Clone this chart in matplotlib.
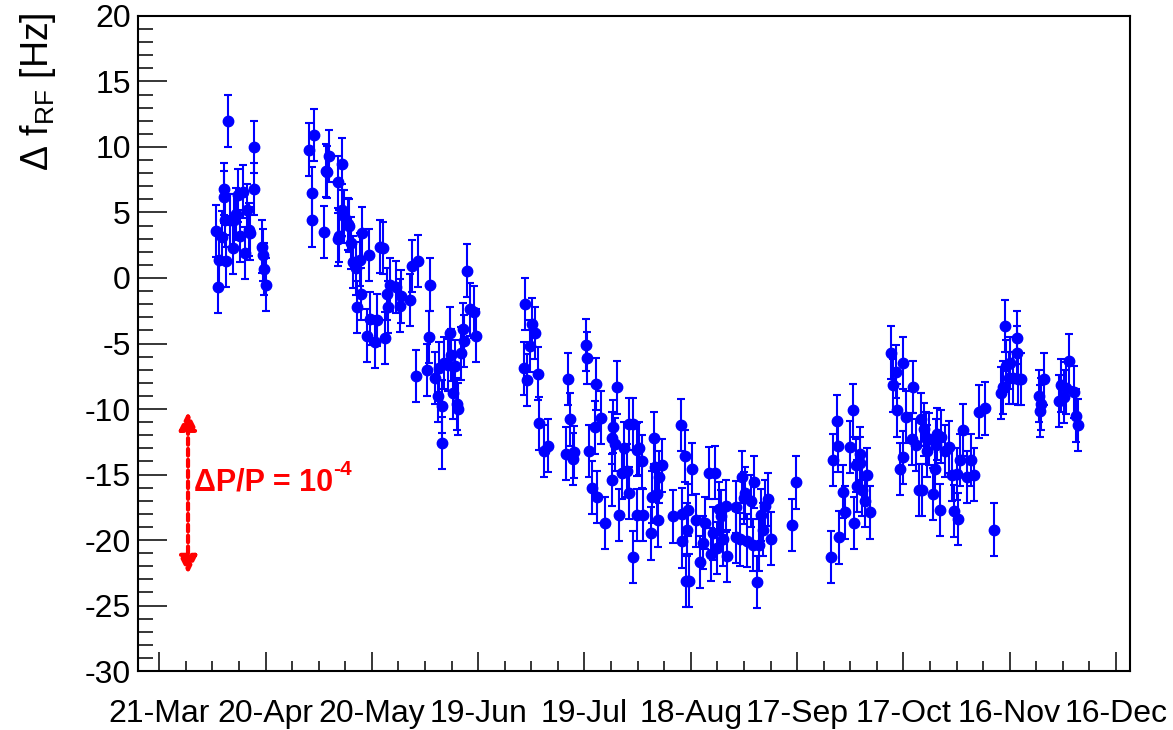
import numpy as np
import matplotlib
matplotlib.use("Agg")
import matplotlib.pyplot as plt

plt.rcParams['font.family'] = ['Liberation Sans', 'DejaVu Sans']
plt.rcParams['mathtext.fontset'] = 'custom'
plt.rcParams['mathtext.rm'] = 'Liberation Sans'
plt.rcParams['mathtext.it'] = 'Liberation Sans:italic'
plt.rcParams['axes.unicode_minus'] = False

# days counted from 21-Mar
day = [15.9, 16.6, 16.8, 17.8, 18.2, 18.3, 18.5, 18.7, 19.4, 20.0, 20.8, 21.2, 21.7,
       22.3, 22.9, 23.7, 24.2, 24.7, 25.3, 25.6, 26.6, 26.7, 28.9, 29.3, 29.6, 30.0,
       42.2, 43.7, 43.2, 43.0, 46.6, 47.0, 47.3, 47.9, 50.3, 51.5, 50.7, 50.5, 51.6,
       52.2, 53.2, 53.5, 54.1, 54.7, 55.4, 56.7, 57.3, 56.9, 55.9, 59.2, 59.4, 58.6,
       60.9, 61.5, 62.3, 63.2, 63.7, 64.2, 64.6, 65.1, 66.7, 68.2, 67.9, 70.7, 71.2,
       73.1, 76.3, 76.2, 72.4, 75.6, 77.8, 78.6, 78.8, 79.7, 79.8, 80.4, 81.4, 82.0,
       82.3, 83.0, 83.4, 83.9, 84.4, 85.1, 85.8, 86.1, 86.8, 87.8, 88.9, 89.5,
       103.2, 103.0, 103.8, 104.7, 105.1, 106.0, 106.8, 107.2, 108.6, 109.8, 115.3,
       115.8, 114.7, 116.9, 116.7, 120.3, 120.7, 123.3, 123.0, 121.3, 122.2, 123.5,
       124.8, 125.7, 129.1, 128.1, 127.9, 128.7, 127.8, 129.6, 131.1, 130.6, 131.9,
       132.5, 133.8, 132.6, 133.6, 134.7, 134.9, 135.5, 136.2, 136.4, 138.7, 139.0,
       139.6, 140.0, 140.5, 140.7, 141.1, 141.9, 147.3, 148.3, 144.9, 147.5, 147.6,
       148.6, 149.4, 148.8, 149.3, 150.3, 151.5, 152.6, 153.5, 154.1, 155.0, 156.9,
       155.6, 156.2, 157.3, 157.9, 158.4, 159.0, 159.9, 160.1, 162.7, 162.9, 163.9,
       164.4, 165.0, 165.4, 166.9, 165.9, 167.8, 167.6, 168.6, 169.3, 169.7, 170.3,
       170.9, 171.9, 172.7, 178.7, 179.7,
       189.5, 190.2, 191.3, 191.6, 191.9, 193.0, 193.6, 194.9, 195.8, 196.0, 196.6,
       197.0, 197.7, 197.9, 198.3, 199.2, 199.8, 200.6,
       206.6, 207.1, 207.9, 209.8, 208.3, 209.0, 210.0, 210.7, 212.4, 212.8, 213.7,
       214.3, 214.9, 215.2, 215.8, 216.4, 216.6, 217.1, 218.4, 218.8, 219.2, 219.4,
       220.3, 220.7, 221.8, 222.8, 223.7, 224.3, 225.0, 225.4, 226.9, 226.0, 229.0,
       227.9, 229.9, 231.4, 233.0, 235.6, 237.5, 238.0, 238.7, 238.9, 240.1, 239.9,
       241.0, 242.0, 242.1, 242.3, 243.3, 248.3, 248.9, 248.7, 249.7, 254.0, 254.5,
       255.3, 255.9, 256.8, 258.1, 258.7, 259.3]

df_rf = [3.6, -0.7, 1.4, 3.1, 6.2, 6.8, 4.4, 1.3, 12.0, 4.4, 2.3, 4.4, 4.9,
         6.3, 3.2, 6.6, 1.9, 5.2, 3.7, 3.4, 10.0, 6.8, 2.4, 1.75, 0.7, -0.5,
         9.8, 10.9, 6.5, 4.4, 3.5, 8.2, 8.1, 9.3, 7.35, 8.7, 3.2, 2.95, 5.2,
         4.7, 4.1, 4.0, 2.65, 1.2, 0.74, 1.4, 3.4, -1.2, -2.2, 1.75, -3.1, -4.4,
         -4.9, -3.2, 2.4, 2.3, -4.6, -1.2, -2.2, -0.5, -0.7, -1.4, -2.1, -1.7, 0.9,
         1.3, -0.5, -4.5, -7.5, -7.0, -7.65, -9.0, -6.9, -9.8, -12.6, -6.5, -6.65, -4.2,
         -5.9, -8.8, -6.7, -9.6, -10.0, -5.75, -3.9, -4.8, 0.56, -2.4, -2.6, -4.4,
         -2.0, -6.9, -7.8, -5.2, -3.5, -4.2, -7.3, -11.1, -13.2, -12.8, -7.7,
         -10.8, -13.4, -13.3, -13.8, -5.1, -6.1, -8.1, -11.4, -13.2, -16.0, -16.7,
         -10.65, -18.7, -8.35, -11.35, -12.2, -12.7, -15.4, -18.1, -13.0, -14.9, -14.7,
         -11.15, -11.15, -16.4, -21.3, -13.1, -18.1, -13.0, -14.0, -18.1, -19.5, -16.7,
         -12.2, -14.45, -16.5, -18.5, -15.2, -14.3, -11.2, -13.6, -18.2, -18.0, -20.1,
         -23.1, -23.1, -19.2, -17.7, -14.6, -18.5, -21.7, -20.2, -18.7, -14.9, -14.85,
         -21.1, -19.5, -20.6, -17.6, -18.2, -19.95, -17.4, -21.2, -17.5, -19.75, -19.95,
         -15.2, -16.8, -16.4, -17.0, -20.05, -15.55, -20.4, -23.2, -20.4, -18.1, -19.2,
         -17.4, -16.9, -19.9, -18.85, -15.6,
         -21.3, -13.9, -10.9, -12.8, -19.8, -16.3, -17.9, -12.9, -10.1, -18.7, -14.3,
         -15.9, -13.4, -14.1, -16.2, -17.0, -15.0, -17.9,
         -5.7, -8.2, -7.15, -6.5, -10.1, -14.6, -13.7, -10.6, -12.3, -8.3, -12.75,
         -16.2, -10.8, -16.2, -11.55, -12.2, -13.2, -12.3, -16.5, -14.6, -12.75, -11.9,
         -17.7, -12.1, -13.2, -12.9, -15.0, -17.8, -14.95, -18.4, -11.6, -13.9, -13.9,
         -15.2, -15.0, -10.2, -9.95, -19.2, -8.8, -8.35, -3.66, -6.7, -6.5, -7.65,
         -7.65, -4.55, -5.7, -7.7, -7.7, -9.0, -9.6, -10.15, -7.7, -9.4, -8.2,
         -9.05, -8.4, -6.3, -8.7, -10.5, -11.2]

err = 2.0  # all error bars look the same size

tick_days = [0, 30, 60, 90, 120, 150, 180, 210, 240, 270]
tick_labels = ['21-Mar', '20-Apr', '20-May', '19-Jun', '19-Jul', '18-Aug',
               '17-Sep', '17-Oct', '16-Nov', '16-Dec']

fig = plt.figure(figsize=(11.73, 7.3), dpi=100)
ax = fig.add_axes([0.1174, 0.0808, 0.8459, 0.8973])

ax.errorbar(day, df_rf, yerr=err, fmt='o', color='#0000ff', ms=7.5,
            elinewidth=1.5, capsize=3, capthick=1.5)

ax.set_xlim(-6.1, 273.95)
ax.set_ylim(-30, 20)
ax.set_xticks(tick_days)
ax.set_xticklabels(tick_labels)
ax.set_xticks(np.arange(7.5, 270, 7.5), minor=True)
ax.set_yticks(np.arange(-30, 21, 5))
ax.set_yticks(np.arange(-30, 21, 1), minor=True)

ax.tick_params(axis='both', which='both', direction='in', width=1.1, labelsize=23)
ax.tick_params(axis='y', which='major', length=21, pad=5)
ax.tick_params(axis='y', which='minor', length=11)
ax.tick_params(axis='x', which='major', length=14, pad=20)
ax.tick_params(axis='x', which='minor', length=7)
for s in ax.spines.values():
    s.set_linewidth(1.5)

fig.text(38 / 1173, 1 - 12 / 730, r'$\Delta$ f$_{\mathrm{RF}}$ [Hz]', rotation=90,
         ha='center', va='top', fontsize=27)

# Delta P / P marker
ax.annotate('', xy=(8.1, -22.8), xytext=(8.1, -10.0),
            arrowprops=dict(arrowstyle='<|-|>', color='red', lw=3,
                            linestyle=(0, (1.6, 1.0)), mutation_scale=26))
t = ax.text(9.7, -15.6, '\u0394P/P = 10', color='red', fontsize=22,
            fontweight='bold', ha='left', va='center')
ax.annotate('-4', xy=(1.0, 0.6), xycoords=t, ha='left', va='bottom',
            color='red', fontsize=15, fontweight='bold')

fig.savefig('out.png', dpi=100)
